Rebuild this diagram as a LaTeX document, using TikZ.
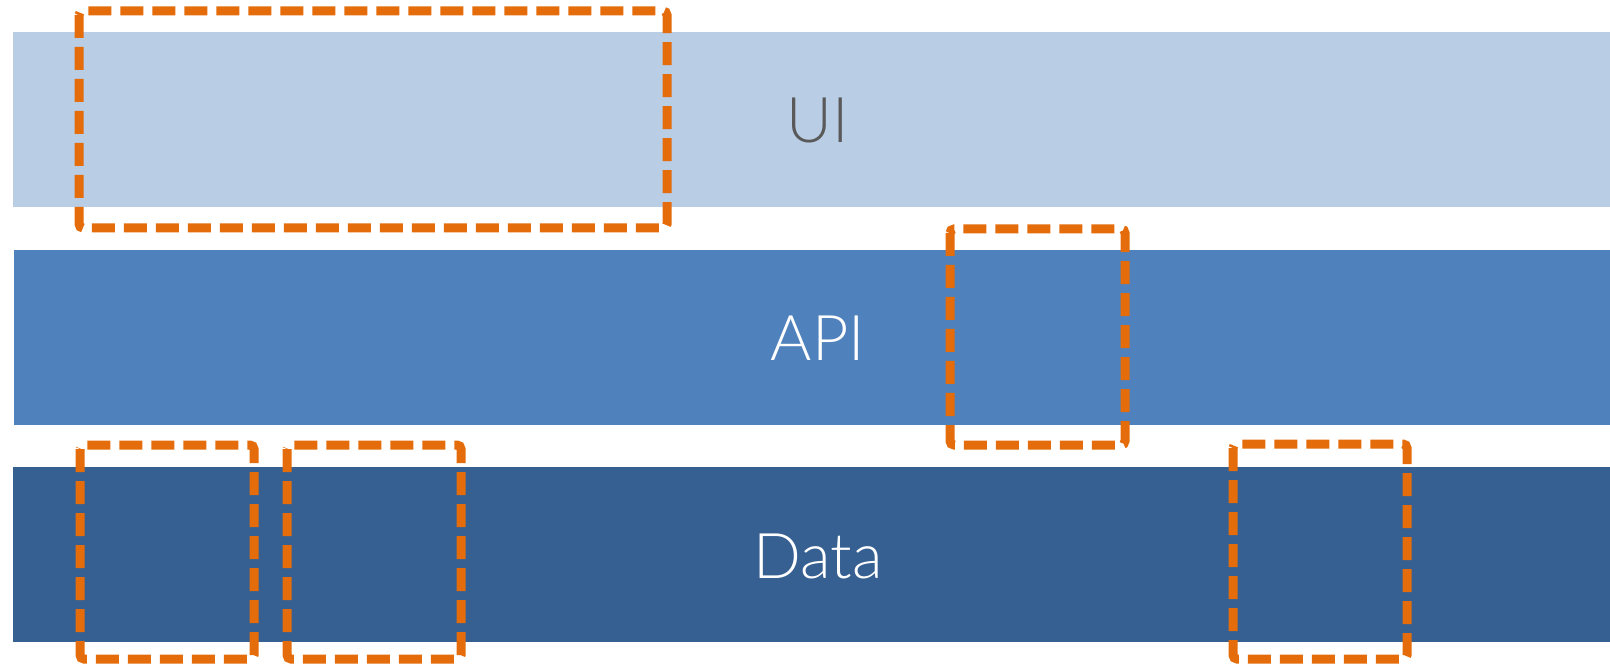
\documentclass[tikz,border=0pt]{standalone}
\usepackage{fontspec}
\setmainfont{Lato}[UprightFont=* Light]
\definecolor{uiblue}{HTML}{B9CDE5}
\definecolor{apiblue}{HTML}{4F81BD}
\definecolor{datablue}{HTML}{366092}
\definecolor{uitext}{HTML}{595959}
\definecolor{hiorange}{HTML}{E46C0A}
\begin{document}
\begin{tikzpicture}[x=1pt,y=-1pt,
		band/.style={rectangle,inner sep=0pt,minimum width=1597pt,minimum height=175pt},
		lname/.style={inner sep=0pt,font=\fontsize{63}{63}\selectfont},
		hibox/.style={draw=hiorange,line width=9pt,dash pattern=on 23pt off 9pt,rounded corners=4pt}]
	\useasboundingbox (0,0) rectangle (1610,668);
	% layers
	\node[band,fill=uiblue] (ui) at (811.5,119.5) {};
	\node[band,fill=apiblue] (api) at (812,337.5) {};
	\node[band,fill=datablue] (data) at (811.5,554.5) {};
	\node[lname,text=uitext] (uiname) at (818,120.5) {UI};
	\node[lname,text=white] (apiname) at (818,338) {API};
	\node[lname,text=white] (dataname) at (818,556) {Data};
	% highlighted parts
	\foreach \L/\T/\R/\B in {79/11/667/228, 950/229/1125/445, 80/445/254/659, 287/445/461/659, 1233/444/1407/659}
		{
			\draw[hibox] (\L,\T) rectangle (\R,\B);
		}
\end{tikzpicture}
\end{document}
